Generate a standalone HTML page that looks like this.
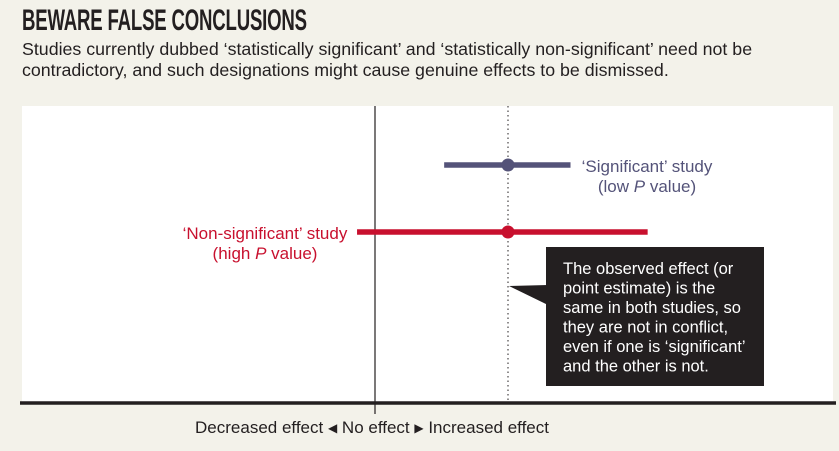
<!DOCTYPE html>
<html><head><meta charset="utf-8"><style>
body{margin:0;width:839px;height:451px;background:#f3f2ea;font-family:"Liberation Sans",sans-serif;overflow:hidden;position:relative}
.t{position:absolute;left:22px;top:4px;font-size:30px;font-weight:bold;color:#231f20;transform:scaleX(0.62);transform-origin:left;letter-spacing:-0.3px}
.s{position:absolute;left:22px;top:39px;font-size:17.8px;line-height:21px;color:#231f20;white-space:nowrap}
</style></head><body>
<div class="t">BEWARE FALSE CONCLUSIONS</div>
<div class="s">Studies currently dubbed ‘statistically significant’ and ‘statistically non-significant’ need not be<br>contradictory, and such designations might cause genuine effects to be dismissed.</div>
<svg id="c" width="839" height="451" style="position:absolute;left:0;top:0"></svg>
<script>
const studies=["Significant","Non-significant"];
const estimates=[1,1];
const lows=[0.52,-0.135];
const highs=[1.47,2.05];
const colors=["#545379","#c8102e"];
const ns="http://www.w3.org/2000/svg";
const svg=document.getElementById('c');
const x=v=>375+v*133;
const yPos={"Significant":165,"Non-significant":232};
function mk(t,a,txt){const e=document.createElementNS(ns,t);for(const k in a)e.setAttribute(k,a[k]);if(txt!=null)e.textContent=txt;svg.appendChild(e);return e;}
let e=mk('rect',{x:22,y:106,width:811,height:297,fill:'#fff'});

e=mk('line',{x1:x(0),y1:106,x2:x(0),y2:414,stroke:'#231f20','stroke-width':1.2});

e=mk('line',{x1:x(estimates[0]),y1:106,x2:x(estimates[0]),y2:402,stroke:'#231f20','stroke-width':1,'stroke-dasharray':'1.5,3'});

e=mk('line',{x1:20,y1:403,x2:836,y2:403,stroke:'#231f20','stroke-width':3.5});

studies.forEach((s,i)=>{const y=yPos[s];
 let l=mk('line',{x1:x(lows[i]),y1:y,x2:x(highs[i]),y2:y,stroke:colors[i],'stroke-width':5.5});
 
 
 let c=mk('circle',{cx:x(estimates[i]),cy:y,r:6.5,fill:colors[i]});
 
 
});
let t=mk('text',{x:647,y:172,fill:colors[0],'font-size':17,'text-anchor':'middle'},"‘Significant’ study");

t=mk('text',{x:647,y:192,fill:colors[0],'font-size':17,'text-anchor':'middle'});t.innerHTML='(low <tspan font-style="italic">P</tspan> value)';

t=mk('text',{x:265,y:239,fill:colors[1],'font-size':17,'text-anchor':'middle'},"‘Non-significant’ study");

t=mk('text',{x:265,y:259,fill:colors[1],'font-size':17,'text-anchor':'middle'});t.innerHTML='(high <tspan font-style="italic">P</tspan> value)';

e=mk('rect',{x:546,y:247,width:218,height:139,fill:'#231f20'});

e=mk('polygon',{points:`548,285 ${x(1)+1},286 548,305`,fill:'#231f20'});

["The observed effect (or","point estimate) is the","same in both studies, so","they are not in conflict,","even if one is ‘significant’","and the other is not."].forEach((s,i)=>{
 let tt=mk('text',{x:563,y:274+i*19.5,fill:'#fff','font-size':16.5},s);
 
});
t=mk('text',{x:372,y:433,fill:'#231f20','font-size':17,'text-anchor':'middle'});
t.innerHTML='Decreased effect <tspan font-size="12" dy="-1">◀</tspan><tspan dy="1"> No effect </tspan><tspan font-size="12" dy="-1">▶</tspan><tspan dy="1"> Increased effect</tspan>';

</script>
</body></html>
